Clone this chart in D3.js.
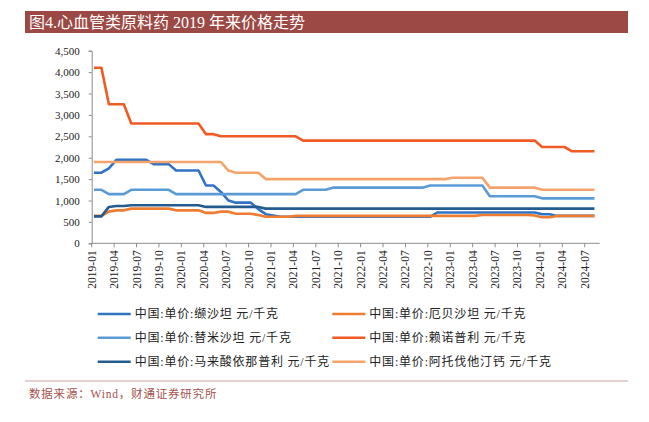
<!DOCTYPE html>
<html><head><meta charset="utf-8">
<script src="https://cdn.jsdelivr.net/npm/d3@7/dist/d3.min.js"></script>
<style>
html,body{margin:0;padding:0;background:#fff;}
svg{display:block;}
</style></head>
<body>
<svg id="c" width="649" height="422"></svg>
<script>
const months = ["2019-01","2019-02","2019-03","2019-04","2019-05","2019-06","2019-07","2019-08","2019-09","2019-10","2019-11","2019-12",
"2020-01","2020-02","2020-03","2020-04","2020-05","2020-06","2020-07","2020-08","2020-09","2020-10","2020-11","2020-12",
"2021-01","2021-02","2021-03","2021-04","2021-05","2021-06","2021-07","2021-08","2021-09","2021-10","2021-11","2021-12",
"2022-01","2022-02","2022-03","2022-04","2022-05","2022-06","2022-07","2022-08","2022-09","2022-10","2022-11","2022-12",
"2023-01","2023-02","2023-03","2023-04","2023-05","2023-06","2023-07","2023-08","2023-09","2023-10","2023-11","2023-12",
"2024-01","2024-02","2024-03","2024-04","2024-05","2024-06","2024-07","2024-08"];
const tickLabels = ["2019-01","2019-04","2019-07","2019-10","2020-01","2020-04","2020-07","2020-10","2021-01","2021-04","2021-07","2021-10",
"2022-01","2022-04","2022-07","2022-10","2023-01","2023-04","2023-07","2023-10","2024-01","2024-04","2024-07"];
const yTicks = [0,500,1000,1500,2000,2500,3000,3500,4000,4500];

const valsartan = [1650,1650,1750,1950,1950,1950,1950,1950,1850,1850,1850,1700,1700,1700,1700,1350,1350,1200,1000,950,950,950,800,680,650,
620,620,620,620,620,620,620,620,620,620,620,620,620,620,620,620,620,620,620,620,620,
720,720,720,720,720,720,720,720,720,720,720,720,720,720,680,680,640,640,640,640,640,640];
const irbesartan = [640,640,740,770,770,810,810,810,810,810,810,770,770,770,770,710,710,740,740,690,690,690,660,620,620,620,620,
640,640,640,640,640,640,640,640,640,640,640,640,640,640,640,640,640,640,640,640,640,640,640,640,640,
660,660,660,660,660,660,660,650,610,610,640,640,640,640,640,640];
const telmisartan = [1250,1250,1150,1150,1150,1250,1250,1250,1250,1250,1250,
1150,1150,1150,1150,1150,1150,1150,1150,1150,1150,1150,1150,1150,1150,1150,1150,1150,
1250,1250,1250,1250,1300,1300,1300,1300,1300,1300,1300,1300,1300,1300,1300,1300,1300,
1350,1350,1350,1350,1350,1350,1350,1350,1100,1100,1100,1100,1100,1100,1100,1050,1050,1050,1050,1050,1050,1050,1050];
const lisinopril = [4100,4100,3250,3250,3250,2800,2800,2800,2800,2800,2800,2800,2800,2800,2800,2550,2550,
2500,2500,2500,2500,2500,2500,2500,2500,2500,2500,2500,
2400,2400,2400,2400,2400,2400,2400,2400,2400,2400,2400,2400,2400,2400,2400,2400,2400,2400,2400,2400,2400,2400,2400,2400,2400,2400,2400,2400,2400,2400,2400,2400,
2250,2250,2250,2250,2150,2150,2150,2150];
const enalapril = [630,630,850,870,870,890,890,890,890,890,890,890,890,890,890,850,850,850,850,850,850,850,850,
810,810,810,810,810,810,810,810,810,810,810,810,810,810,810,810,810,810,810,810,810,810,810,810,810,810,810,810,810,810,810,810,810,810,810,810,810,810,810,810,810,810,810,810,810];
const atorvastatin = [1900,1900,1900,1900,1900,1900,1900,1900,1900,1900,1900,1900,1900,1900,1900,1900,1900,1900,1700,1650,1650,1650,1650,
1500,1500,1500,1500,1500,1500,1500,1500,1500,1500,1500,1500,1500,1500,1500,1500,1500,1500,1500,1500,1500,1500,1500,1500,1500,
1530,1530,1530,1530,1530,1300,1300,1300,1300,1300,1300,1300,1250,1250,1250,1250,1250,1250,1250,1250];

const seriesNames = ["中国:单价:缬沙坦 元/千克","中国:单价:厄贝沙坦 元/千克","中国:单价:替米沙坦 元/千克","中国:单价:赖诺普利 元/千克","中国:单价:马来酸依那普利 元/千克","中国:单价:阿托伐他汀钙 元/千克"];
const seriesValues = [valsartan, irbesartan, telmisartan, lisinopril, enalapril, atorvastatin];
const seriesColors = ["#2f73c2","#ee7d31","#5b9bd5","#f05a24","#245c8f","#f5a36b"];

const svg = d3.select("#c");
const serif = "'Liberation Serif','Times New Roman','Noto Sans CJK SC',serif";

// title bar
svg.append("rect").attr("x",25).attr("y",11).attr("width",603).attr("height",22).attr("fill","#9c4945");
svg.append("text").attr("x",29).attr("y",28).attr("fill","#fff").attr("font-family",serif).attr("font-size",16).text("图4.心血管类原料药 2019 年来价格走势");

const plotLeft = 91.7, plotTop = 50.7, plotBottom = 243.3;
const x = d3.scaleBand().domain(months.concat(["2024-09"])).range([plotLeft, plotLeft + 69*7.47]).padding(0);
const bw = x.bandwidth();
const px = m => x(m) + bw*0.3;
const y = d3.scaleLinear().domain([0,4500]).range([plotBottom, plotTop]);

// y axis
const ya = svg.append("g").attr("transform",`translate(${plotLeft},0)`)
  .call(d3.axisLeft(y).tickValues(yTicks).tickSize(3).tickPadding(9).tickFormat(d3.format(",")));
ya.select(".domain").attr("stroke","#8c8c8c");
ya.selectAll(".tick line").attr("stroke","#8c8c8c");
ya.selectAll("text").attr("font-family",serif).attr("font-size",11).attr("fill","#222");

// x axis
const xEnd = x("2024-09");
const xa = svg.append("g").attr("transform",`translate(0,${plotBottom})`);
xa.append("line").attr("x1",plotLeft).attr("x2",xEnd).attr("y1",0).attr("y2",0).attr("stroke","#8c8c8c");
tickLabels.forEach(t => {
  const tx = x(t);
  xa.append("line").attr("x1",tx).attr("x2",tx).attr("y1",0).attr("y2",4).attr("stroke","#8c8c8c");
  xa.append("text").attr("transform",`translate(${tx+4},7) rotate(-90)`).attr("text-anchor","end")
    .attr("font-family",serif).attr("font-size",11.5).attr("fill","#222").text(t);
});

// lines
const line = d3.line().x((d,i) => px(months[i])).y(d => y(d));
seriesValues.forEach((vals, k) => {
  svg.append("path").datum(vals).attr("d", line).attr("fill","none")
    .attr("stroke", seriesColors[k]).attr("stroke-width",2.6).attr("stroke-linejoin","round");
});

// legend
const legPos = [[97.7,314],[332.3,314],[97.7,337.7],[332.3,337.7],[97.7,361.7],[332.3,361.7]];
seriesNames.forEach((n,k) => {
  const [lx,ly] = legPos[k];
  svg.append("line").attr("x1",lx).attr("x2",lx+33).attr("y1",ly).attr("y2",ly).attr("stroke",seriesColors[k]).attr("stroke-width",2.6);
  svg.append("text").attr("x",lx+37).attr("y",ly+4).attr("font-family",serif).attr("font-size",12)
    .attr("letter-spacing",0.8).attr("fill","#222").text(n);
});

// footer
svg.append("line").attr("x1",25).attr("x2",628).attr("y1",381).attr("y2",381).attr("stroke","#c9a3a0").attr("stroke-width",1.2);
svg.append("text").attr("x",29).attr("y",398).attr("font-family",serif).attr("font-size",11.5).attr("letter-spacing",0.8)
  .attr("fill","#a5524d").text("数据来源：Wind，财通证券研究所");
</script>
</body></html>
